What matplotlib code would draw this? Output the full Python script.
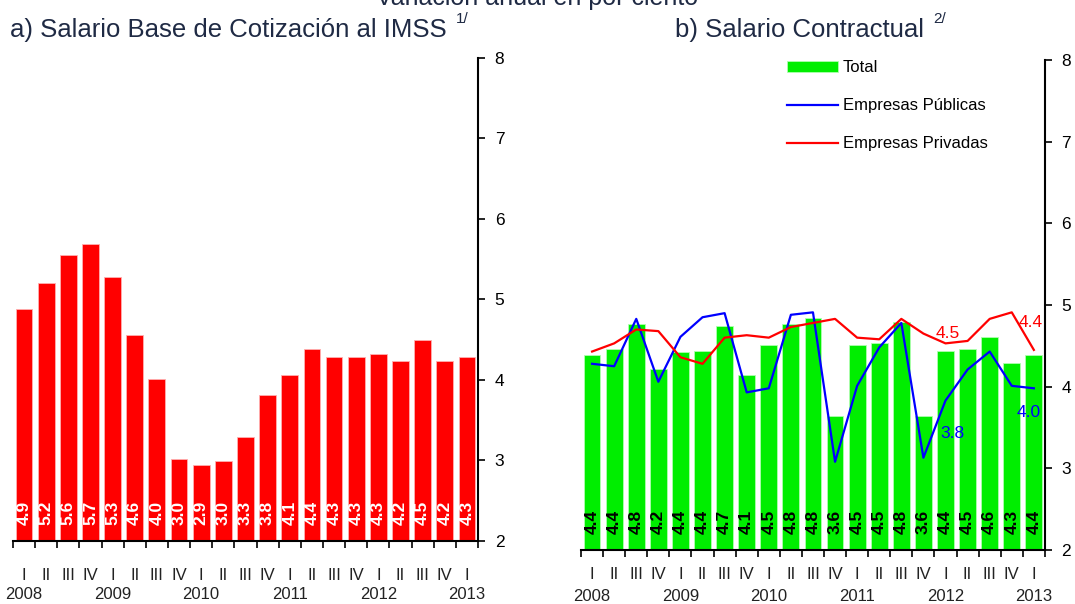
import matplotlib
matplotlib.use('Agg')
import matplotlib.pyplot as plt
import numpy as np

plt.rcParams['font.family'] = ['Liberation Sans', 'DejaVu Sans']

# data
quarters = ['I', 'II', 'III', 'IV'] * 5 + ['I']
years = ['2008', '2009', '2010', '2011', '2012', '2013']
imss = [4.88, 5.21, 5.55, 5.69, 5.28, 4.56, 4.01, 3.02, 2.94, 2.99, 3.29,
        3.81, 4.06, 4.38, 4.28, 4.28, 4.32, 4.23, 4.50, 4.23, 4.28]
imss_labels = ['4.9', '5.2', '5.6', '5.7', '5.3', '4.6', '4.0', '3.0', '2.9', '3.0', '3.3',
               '3.8', '4.1', '4.4', '4.3', '4.3', '4.3', '4.2', '4.5', '4.2', '4.3']
total = [4.39, 4.46, 4.77, 4.22, 4.42, 4.44, 4.74, 4.14, 4.51, 4.77, 4.84,
         3.64, 4.51, 4.54, 4.79, 3.64, 4.44, 4.46, 4.61, 4.29, 4.39]
total_labels = ['4.4', '4.4', '4.8', '4.2', '4.4', '4.4', '4.7', '4.1', '4.5', '4.8', '4.8',
                '3.6', '4.5', '4.5', '4.8', '3.6', '4.4', '4.5', '4.6', '4.3', '4.4']
publicas = [4.28, 4.25, 4.83, 4.06, 4.61, 4.85, 4.90, 3.93, 3.98, 4.88, 4.91,
            3.08, 4.01, 4.48, 4.78, 3.13, 3.83, 4.21, 4.43, 4.01, 3.98]
privadas = [4.43, 4.53, 4.70, 4.68, 4.36, 4.28, 4.60, 4.63, 4.60, 4.73, 4.78,
            4.83, 4.60, 4.58, 4.83, 4.65, 4.53, 4.56, 4.83, 4.91, 4.45]
# value labels on the lines: (index, text)
publicas_notes = [(16, '3.8'), (20, '4.0')]
privadas_notes = [(16, '4.5'), (20, '4.4')]

x = np.arange(len(imss))
fig = plt.figure(figsize=(10.75, 6.04), dpi=100)
ax1 = fig.add_axes([0.012, 0.1043, 0.4327, 0.7997])
ax2 = fig.add_axes([0.5405, 0.0894, 0.4315, 0.8113])


def style_axis(ax, qy, yy):
    ax.set_xlim(-0.5, len(x) - 0.5)
    ax.set_ylim(2, 8)
    for s in ['left', 'top']:
        ax.spines[s].set_visible(False)
    ax.spines['right'].set_linewidth(1.5)
    ax.spines['bottom'].set_linewidth(1.5)
    ax.yaxis.tick_right()
    ax.set_yticks(range(2, 9))
    ax.tick_params(axis='y', direction='out', length=5, width=1.2, labelsize=12.5, pad=7)
    ax.set_xticks(np.arange(-0.5, len(x), 1.0))
    ax.set_xticklabels([])
    ax.tick_params(axis='x', direction='out', length=5, width=1.2)
    tr = ax.get_xaxis_transform()
    for i, q in enumerate(quarters):
        ax.text(i, qy, q, transform=tr, ha='center', va='center', fontsize=12, color='#222222')
    for k, yr in enumerate(years):
        ax.text(k * 4, yy, yr, transform=tr, ha='center', va='center', fontsize=12, color='#222222')


# a) IMSS
ax1.bar(x, imss, width=0.76, color='#ff0000', edgecolor='#ffb0b0', linewidth=0.6)
for i, lab in enumerate(imss_labels):
    ax1.text(i, 2.35, lab, rotation=90, ha='center', va='center',
             color='white', fontweight='bold', fontsize=12.5)
style_axis(ax1, -0.071, -0.110)

# b) Contractual
ax2.bar(x, total, width=0.76, color='#00ee00', edgecolor='#b0ffb0', linewidth=0.6, label='Total')
ax2.plot(x, publicas, color='#0000ff', lw=1.6, label='Empresas Públicas')
ax2.plot(x, privadas, color='#ff0000', lw=1.6, label='Empresas Privadas')
for i, lab in enumerate(total_labels):
    ax2.text(i, 2.34, lab, rotation=90, ha='center', va='center',
             color='black', fontweight='bold', fontsize=12.5)
style_axis(ax2, -0.051, -0.094)

offsets_priv = {16: (2, 10), 20: (-3, 27)}
offsets_pub = {16: (7, -33), 20: (-5, -24)}
for i, lab in privadas_notes:
    ax2.annotate(lab, (i, privadas[i]), xytext=offsets_priv[i], textcoords='offset pixels',
                 ha='center', va='center', color='#ff0000', fontsize=12.5)
for i, lab in publicas_notes:
    ax2.annotate(lab, (i, publicas[i]), xytext=offsets_pub[i], textcoords='offset pixels',
                 ha='center', va='center', color='#0000ff', fontsize=12.5)

h, l = ax2.get_legend_handles_labels()
order = [2, 0, 1]
ax2.legend([h[k] for k in order], [l[k] for k in order], loc='upper left',
           bbox_to_anchor=(0.429, 1.013), frameon=False, fontsize=12,
           handlelength=3.05, handleheight=0.6, labelspacing=1.38, handletextpad=0.3,
           borderaxespad=0)

# titles
fig.text(0.5, 0.992, 'Variación anual en por ciento', ha='center', va='baseline',
         fontsize=18, color='#1f2a44')
t1 = fig.text(0.0093, 0.939, 'a) Salario Base de Cotización al IMSS', ha='left', va='baseline',
              fontsize=18.5, color='#1f2a44')
t2 = fig.text(0.628, 0.939, 'b) Salario Contractual', ha='left', va='baseline',
              fontsize=18.5, color='#1f2a44')
fig.canvas.draw()
r = fig.canvas.get_renderer()
for t, sup in [(t1, '1/'), (t2, '2/')]:
    bb = t.get_window_extent(r)
    fig.text((bb.x1 + 9) / fig.bbox.width, 0.962, sup, ha='left', va='baseline',
             fontsize=11, color='#1f2a44')

fig.savefig('out.png', dpi=100)
